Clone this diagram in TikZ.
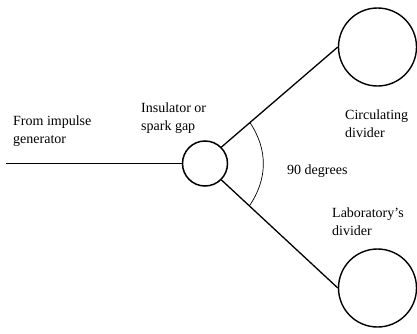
\documentclass[tikz,border=0pt]{standalone}
\usepackage{fontspec}
\setmainfont{Liberation Serif}
\usetikzlibrary{calc}
\begin{document}
\begin{tikzpicture}[x=1pt,y=1pt,
  lbl/.style={anchor=west,inner sep=0pt,align=left,font=\fontsize{14}{18}\selectfont},
  bigc/.style={circle,draw,line width=1.4pt,minimum size=78pt,inner sep=0pt},
  gapc/.style={circle,draw,line width=1.5pt,minimum size=45pt,inner sep=0pt},
  wire/.style={line width=1.3pt}]
\useasboundingbox (0,0) rectangle (417,333);
\node[gapc] (gap) at (205,169.5) {};
\node[bigc] (cd) at (377.5,286) {};
\node[bigc] (ld) at (377.5,45) {};
\coordinate (src) at (6,169.5);
\draw[wire,line width=1.8pt] (src) -- (gap.west);
\draw[wire] (gap.45) -- (cd.west);
\draw[wire] (gap.-45) -- (ld.west);
\coordinate (p1) at ($(gap.45)!0.245!(cd.west)$);
\coordinate (p2) at ($(gap.-45)!0.24!(ld.west)$);
\draw[line width=0.7pt] (p1) to[bend left=34] (p2);
\node[lbl] (src-l) at (13,202) {From impulse\\generator};
\node[lbl] (gap-l) at (141,214.5) {Insulator or\\spark gap};
\node[lbl] (cd-l) at (345,209) {Circulating\\divider};
\node[lbl] (ang-l) at (287,162) {90 degrees};
\node[lbl] (ld-l) at (332,111.5) {Laboratory's\\divider};
\end{tikzpicture}
\end{document}
